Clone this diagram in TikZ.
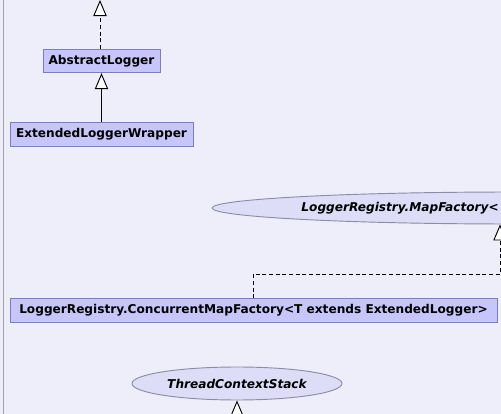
\documentclass[tikz,border=0pt]{standalone}
\usepackage{fontspec}
\setmainfont{DejaVu Sans}
\usetikzlibrary{arrows.meta,shapes.geometric}

\definecolor{bgcol}{RGB}{238,238,250}
\definecolor{boxfill}{RGB}{198,198,250}
\definecolor{boxline}{RGB}{124,124,190}
\definecolor{ellfill}{RGB}{221,221,248}
\definecolor{ellline}{RGB}{140,140,165}
\definecolor{framecol}{RGB}{160,160,176}

\begin{document}
\begin{tikzpicture}[
  x=0.75pt, y=-0.75pt,
  cls/.style={draw=boxline, fill=boxfill, line width=0.7pt, inner sep=0pt,
    minimum height=17.5pt, font=\fontsize{9.1}{10}\selectfont\bfseries},
  iface/.style={ellipse, draw=ellline, fill=ellfill, line width=0.7pt, inner sep=0pt},
  ifacetext/.style={inner sep=0pt, font=\fontsize{9.1}{10}\selectfont\bfseries\itshape},
  inherit/.style={line width=0.7pt, -{Triangle[length=12pt,width=10pt,fill=white]}},
  impl/.style={inherit, dash pattern=on 3pt off 2pt}
]
% page and frame
\fill[bgcol] (0,0) rectangle (501,414);
\useasboundingbox (0,0) rectangle (501,414);
\draw[framecol, line width=0.7pt] (3,0) -- (3,414);

% classes
\node[cls, minimum width=87.75pt] (absLogger) at (101.5,61) {AbstractLogger};
\node[cls, minimum width=137.25pt] (extWrapper) at (101.5,134.5) {ExtendedLoggerWrapper};
\node[cls, minimum width=365.25pt] (concMap) at (253.5,310.5)
  {LoggerRegistry.ConcurrentMapFactory<T extends ExtendedLogger>};

% interfaces
\node[iface, minimum width=453pt, minimum height=24pt] (mapFactory) at (514,208) {};
\node[ifacetext, anchor=east] (mapFactoryLab) at (499,208) {LoggerRegistry.MapFactory<};
\node[iface, minimum width=157.5pt, minimum height=24.75pt] (threadStack) at (237,383.5)
  {\fontsize{9.1}{10}\selectfont\bfseries\itshape ThreadContextStack};

% connectors
\coordinate (absUp) at (100,0);
\coordinate (bend) at (500,274);
\coordinate (stackDown) at (237,440);
\draw[impl] (absLogger.north -| absUp) -- (absUp);
\draw[inherit] (extWrapper) -- (absLogger);
\draw[impl] (concMap.north) |- (bend) -- (bend |- mapFactory.south);
\draw[inherit] (stackDown) -- (threadStack.south);
\end{tikzpicture}
\end{document}
